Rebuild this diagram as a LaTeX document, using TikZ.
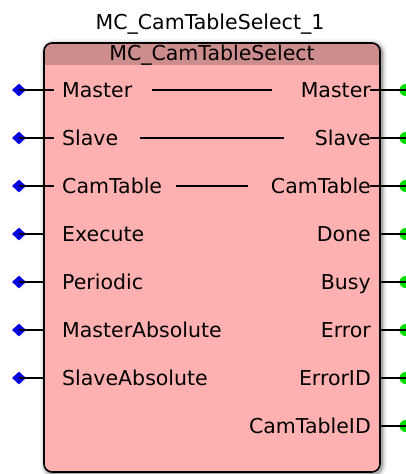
\documentclass[tikz,border=0pt]{standalone}
\usepackage{fontspec}
\setmainfont{DejaVu Sans}
\usetikzlibrary{shapes.geometric}
\definecolor{bodypink}{RGB}{255,176,176}
\definecolor{headpink}{RGB}{206,141,141}
\definecolor{pinblue}{RGB}{0,0,230}
\definecolor{pingreen}{RGB}{0,220,0}
\begin{document}
\begin{tikzpicture}[x=1pt,y=-1pt,
  font=\fontsize{20.5}{24}\selectfont,
  inpin/.style={diamond, fill=pinblue, inner sep=0pt, minimum width=14pt, minimum height=13pt},
  outpin/.style={circle, fill=pingreen, inner sep=0pt, minimum size=12pt},
  inlbl/.style={inner sep=0pt, anchor=base west},
  outlbl/.style={inner sep=0pt, anchor=base east},
  wire/.style={line width=1.5pt, black}]
\useasboundingbox (0,0) rectangle (406,474);
% shadow
\foreach \w/\o in {10/0.04,7/0.07,4/0.10,2/0.16}
  \draw[line width=\w pt, black, opacity=\o, rounded corners=9pt] (45,44) rectangle (382,474);
% box
\fill[bodypink, rounded corners=8pt] (44,43) rectangle (380,472);
\fill[headpink, rounded corners=8pt] (44,43) rectangle (380,76);
\fill[bodypink] (44,65) rectangle (380,77);
\draw[line width=1.6pt, rounded corners=8pt] (44,43) rectangle (380,472);
% titles
\node[inner sep=0pt, anchor=base] (title) at (210,29) {MC\_CamTableSelect\_1};
\node[inner sep=0pt, anchor=base] (fbtype) at (212,60) {MC\_CamTableSelect};
% inputs
\foreach \n/\t/\y/\e in {a/Master/90/54, b/Slave/138/54, c/CamTable/186/54, d/Execute/234/44, e/Periodic/282/44, f/MasterAbsolute/330/44, g/SlaveAbsolute/378/44} {
  \node[inpin] (in\n) at (19,\y) {};
  \coordinate (ie\n) at (\e,\y);
  \draw[wire] (in\n.center) -- (ie\n);
  \node[inlbl] (il\n) at (62,\y+7) {\t};
}
% outputs
\foreach \n/\t/\y/\e in {a/Master/90/370, b/Slave/138/370, c/CamTable/186/370, d/Done/234/380, e/Busy/282/380, f/Error/330/380, g/ErrorID/378/380, h/CamTableID/426/380} {
  \node[outpin] (out\n) at (405.5,\y) {};
  \coordinate (oe\n) at (\e,\y);
  \draw[wire] (oe\n) -- (out\n.center);
  \node[outlbl] (ol\n) at (371,\y+7) {\t};
}
% in-out links
\coordinate (ma) at (152,90); \coordinate (mb) at (272,90);
\coordinate (sa) at (140,138); \coordinate (sb) at (284,138);
\coordinate (ca) at (176,186); \coordinate (cb) at (248,186);
\draw[wire] (ma) -- (mb);
\draw[wire] (sa) -- (sb);
\draw[wire] (ca) -- (cb);
\end{tikzpicture}
\end{document}
